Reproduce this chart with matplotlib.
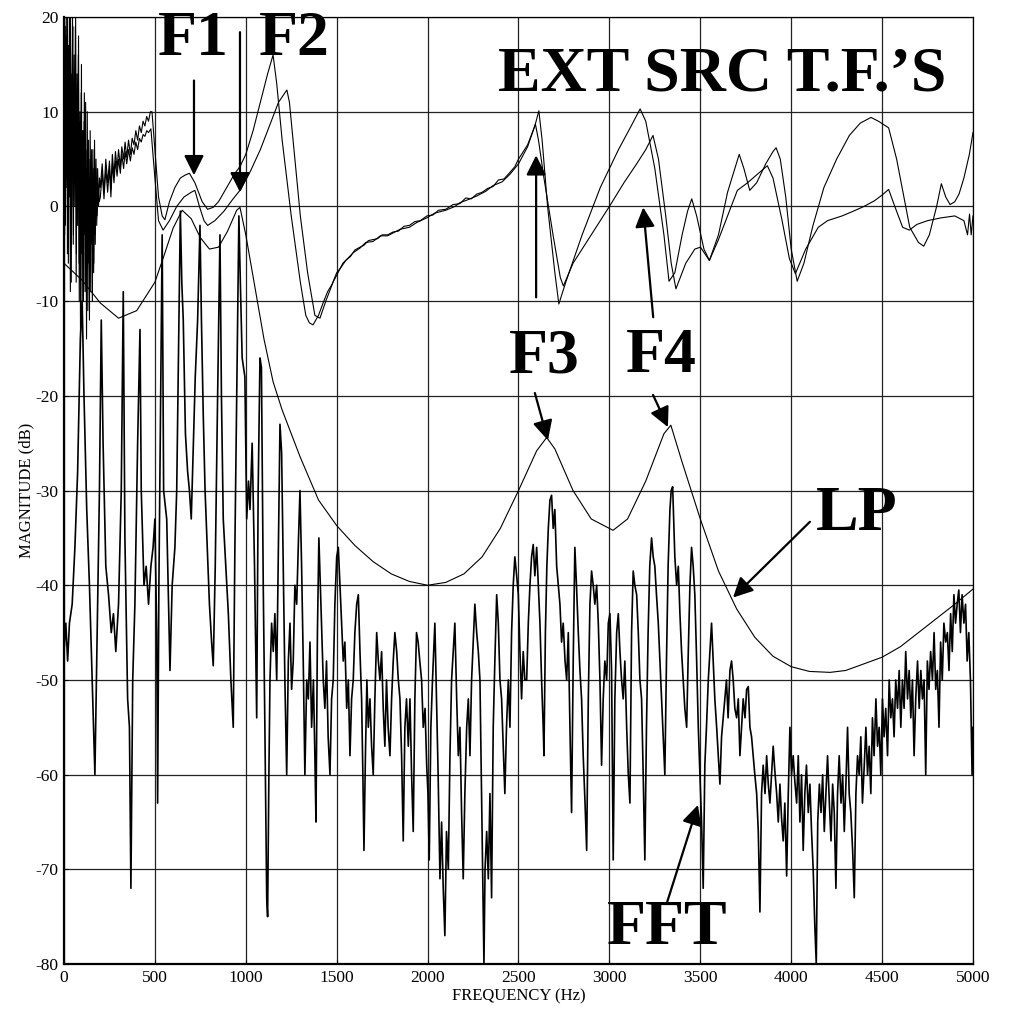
import numpy as np
import matplotlib
matplotlib.use("Agg")
import matplotlib.pyplot as plt

plt.rcParams['font.family'] = ['Liberation Serif', 'DejaVu Serif']
plt.rcParams['axes.unicode_minus'] = False

# values (Hz, dB)
lp_hz = [0, 100, 200, 300, 400, 500, 550, 600, 650, 700, 750, 800, 850, 900, 950, 968,
         1000, 1050, 1100, 1150, 1200, 1300, 1400, 1500, 1600, 1700, 1800, 1900, 2000,
         2100, 2200, 2300, 2400, 2500, 2600, 2655, 2700, 2800, 2900, 3020, 3100, 3200,
         3300, 3338, 3400, 3500, 3600, 3700, 3800, 3900, 4000, 4100, 4214, 4300, 4400,
         4500, 4600, 4700, 4800, 4900, 5000]
lp_db = [-6, -7.8, -10.2, -11.8, -11, -8, -5.2, -2.3, -0.4, -1.3, -3.3, -4.5, -4.3, -2.6, -0.4, -0.1,
         -3, -8.5, -14, -18.5, -21.5, -26.5, -31, -33.7, -35.8, -37.5, -38.8, -39.6, -40,
         -39.7, -38.8, -37, -34, -30, -25.8, -24.4, -25.6, -30, -33, -34.2, -33, -29,
         -24, -23.1, -27, -33, -38.5, -42.5, -45.5, -47.5, -48.6, -49.1, -49.2, -49, -48.3,
         -47.6, -46.5, -45, -43.5, -42, -40.4]

ext_a = [(0, 5), (4, 20), (8, -2), (12, 18), (16, 3), (20, 20), (24, -6), (28, 15), (32, 1),
         (36, 20), (40, -8), (44, 12), (48, 19), (52, -3), (56, 16), (60, 0), (64, 20), (68, -5),
         (72, 14), (76, 2), (80, 18), (84, -10), (88, 10), (92, -4), (96, 15), (100, -12),
         (104, 8), (108, -2), (112, 12), (116, -9), (120, 6), (124, -14), (128, 10), (132, -6),
         (136, 5), (140, -12), (144, 8), (148, -3), (152, 6), (156, -10), (160, 4), (164, -6),
         (168, 7), (172, -4), (176, 5), (180, -2), (185, 4), (190, 0), (195, 3),
         (200, 2), (210, 4.5), (220, 1.5), (230, 5), (240, 2.5), (250, 4.8), (258, 1.8),
         (266, 5.5), (275, 3.2), (283, 5.8), (292, 4), (300, 6), (310, 4.2), (318, 6.3),
         (328, 5), (336, 6.8), (345, 5.2), (355, 7), (365, 5.5), (375, 7.2), (385, 6.5),
         (395, 8), (405, 7), (415, 8.5), (425, 7.8), (435, 9), (445, 8.5), (455, 9.5),
         (465, 9), (475, 10), (484, 10),
         (500, 6), (520, 1), (540, -1), (555, -1.4), (580, 0.5), (610, 2), (640, 3), (665, 3.3),
         (690, 3.5), (720, 2.5), (760, 0.5), (790, -0.3), (820, -0.1), (850, 0.5), (880, 1.5),
         (910, 2.5), (940, 3.5), (968, 4.2), (1000, 5.5), (1040, 8), (1080, 11), (1120, 14),
         (1150, 16), (1170, 13), (1200, 7), (1250, -1), (1300, -8), (1330, -11.5), (1350, -12.3),
         (1370, -12.5), (1400, -11.5), (1425, -10.2), (1450, -9), (1475, -8.2), (1500, -7),
         (1525, -6.4), (1550, -5.7), (1575, -5.3), (1600, -4.6), (1628, -4.3), (1650, -4.1),
         (1675, -3.6), (1700, -3.5), (1725, -3.4), (1750, -3.0), (1780, -3.0), (1810, -2.7),
         (1840, -2.6), (1870, -2.1), (1900, -2.0), (1930, -1.6), (1960, -1.5), (1996, -1.0),
         (2030, -0.9), (2060, -0.4), (2100, -0.3), (2140, 0.2), (2178, 0.3), (2210, 0.9),
         (2240, 0.8), (2270, 1.3), (2300, 1.5), (2330, 1.9), (2360, 2.1), (2390, 2.8),
         (2420, 2.9), (2453, 3.6), (2480, 4.2), (2500, 5), (2550, 6.5), (2590, 8.5),
         (2612, 10.1), (2630, 7), (2660, 0), (2700, -7), (2722, -10.3), (2760, -8), (2850, -3),
         (2950, 2), (3050, 6), (3120, 8.5), (3169, 10.3), (3200, 9), (3250, 4), (3300, -3),
         (3328, -7.9), (3360, -7), (3400, -3), (3430, -0.5), (3453, 0.8), (3480, -1),
         (3520, -4.5), (3550, -5.7), (3600, -3), (3650, 1.5), (3690, 4), (3714, 5.5), (3740, 4),
         (3772, 1.7), (3810, 2.5), (3860, 4.5), (3900, 5.8), (3917, 6.2), (3940, 5), (3970, 1),
         (4000, -4.5), (4033, -7.9), (4070, -6), (4120, -2), (4180, 2), (4250, 5), (4320, 7.5),
         (4380, 8.8), (4439, 9.4), (4480, 9), (4536, 8.3), (4580, 5), (4620, 1), (4652, -2.2),
         (4700, -3.8), (4729, -4.2), (4760, -3), (4800, 0), (4826, 2.4), (4850, 1), (4874, 0.2),
         (4900, 0.5), (4923, 1.3), (4950, 3), (4980, 5.5), (5000, 7.8)]

ext_b = [(0, 12), (3, -3), (7, 19), (11, 2), (15, 20), (19, -5), (23, 17), (27, 6), (31, 20),
         (35, -9), (39, 14), (43, 0), (47, 20), (51, -4), (55, 13), (59, 5), (63, 19), (67, -8),
         (71, 11), (75, -2), (79, 16), (83, -6), (87, 9), (91, -15), (95, 12), (99, -5),
         (103, 7), (107, -10), (111, 9), (115, -3), (119, 11), (123, -8), (127, 4), (131, -11),
         (135, 7), (139, -5), (143, 3), (147, -9), (151, 5), (155, -4), (159, 6), (163, -7),
         (167, 3), (171, -3), (176, 4), (182, -1), (188, 2), (194, 0.5),
         (200, 1), (210, 3.5), (220, 0.8), (230, 4), (240, 1.5), (250, 4), (258, 1),
         (266, 4.5), (275, 2.5), (283, 4.8), (292, 3.2), (300, 5), (310, 3.5), (318, 5.5),
         (328, 4), (336, 5.8), (345, 4.5), (355, 6), (365, 4.8), (375, 6.2), (385, 5.5),
         (395, 6.8), (405, 6), (415, 7.2), (425, 6.8), (435, 7.6), (445, 7.4), (455, 8),
         (465, 7.8), (478, 8.2),
         (500, 3), (520, -1.5), (545, -2.5),
         (580, -1.5), (620, 0), (660, 1), (700, 1.5), (720, 1.7), (745, 0), (770, -1.5),
         (790, -2), (830, -1.5), (880, -0.5), (930, 0.8), (968, 1.7), (1020, 3.5), (1080, 6),
         (1130, 8.5), (1180, 11), (1226, 12.3), (1240, 11), (1270, 5), (1300, -1), (1340, -7),
         (1380, -11.5), (1408, -11.8), (1440, -10), (1480, -8), (1534, -6), (1560, -5.5),
         (1590, -4.9), (1628, -4.4), (1660, -3.8), (1700, -3.7), (1740, -3.1), (1780, -3.1),
         (1810, -2.8), (1850, -2.4), (1900, -2.2), (1940, -1.7), (1996, -1.2), (2040, -0.7),
         (2100, -0.4), (2150, 0.0), (2178, 0.4), (2220, 0.7), (2270, 1.1), (2320, 1.6),
         (2360, 2.2), (2410, 2.6), (2453, 3.4), (2500, 4.5), (2550, 6.3), (2593, 8.7),
         (2610, 7), (2640, 3), (2690, -3), (2730, -7.5), (2747, -8.4), (2800, -6), (2900, -3),
         (3000, 0), (3080, 2.5), (3150, 4.5), (3200, 6), (3240, 7.5), (3270, 5), (3310, -1),
         (3340, -6), (3366, -8.7), (3420, -6), (3470, -4.5), (3501, -4.3), (3550, -5.7),
         (3600, -3.5), (3650, -1), (3704, 1.7), (3760, 2.5), (3820, 3.5), (3869, 4.3),
         (3900, 3), (3950, -1.5), (3990, -5.5), (4023, -7.1), (4080, -4.5), (4149, -2.2),
         (4200, -1.5), (4280, -1), (4342, -0.5), (4400, 0), (4458, 0.6), (4500, 1.2),
         (4536, 1.8), (4570, 0), (4613, -2.2), (4650, -2.5), (4691, -1.9), (4750, -1.5),
         (4826, -1.2), (4900, -1), (4950, -1.5), (4970, -3), (4981, -0.8), (4990, -3), (5000, -1)]

fft = [(0, -47), (10, -44), (20, -48), (30, -44), (45, -42), (60, -36), (75, -28), (90, -14),
       (100, -10), (110, -20), (125, -32), (140, -40), (155, -50), (170, -60), (180, -48),
       (195, -30), (205, -12), (215, -25), (230, -38), (245, -41), (260, -45), (272, -43),
       (285, -47), (300, -42), (315, -30), (326, -9), (335, -35), (350, -52), (360, -55),
       (368, -72), (378, -50), (390, -42), (405, -25), (418, -13), (425, -30), (440, -40),
       (452, -38), (465, -42), (478, -38), (490, -36), (500, -33), (510, -45), (515, -63),
       (522, -40), (532, -20), (540, -3), (548, -30), (565, -33), (575, -42), (583, -49),
       (595, -40), (610, -36), (620, -30), (632, -12), (640, -0.5), (648, -8), (656, -12),
       (668, -24), (680, -28), (690, -30), (700, -33), (712, -25), (722, -18), (735, -12),
       (748, -2), (756, -12), (766, -22), (776, -30), (788, -36), (800, -42), (812, -46),
       (821, -48.5), (832, -38), (845, -20), (858, -3), (866, -20), (876, -33), (890, -38),
       (904, -43), (918, -50), (931, -55), (940, -36), (950, -20), (962, -1), (970, -8),
       (980, -16), (995, -18), (1005, -33), (1015, -29), (1023, -32), (1035, -25), (1048, -38),
       (1060, -54), (1068, -30), (1078, -16), (1086, -17), (1096, -40), (1105, -55),
       (1115, -73), (1120, -75), (1127, -60), (1133, -50), (1142, -44), (1151, -47),
       (1160, -43), (1170, -50), (1180, -35), (1188, -23), (1197, -26), (1206, -38),
       (1215, -50), (1225, -60), (1234, -48), (1243, -44), (1252, -51), (1261, -48),
       (1270, -40), (1280, -42), (1290, -35), (1298, -30), (1307, -38), (1316, -48),
       (1325, -60), (1335, -50), (1344, -52), (1353, -46), (1362, -55), (1372, -50),
       (1380, -58), (1386, -65), (1394, -45), (1402, -35), (1410, -40), (1417, -44),
       (1426, -50), (1435, -53), (1444, -48), (1453, -56), (1463, -60), (1472, -52),
       (1481, -50), (1490, -42), (1500, -37), (1509, -36), (1518, -40), (1527, -44),
       (1536, -48), (1545, -46), (1555, -53), (1564, -50), (1573, -58), (1582, -52),
       (1591, -50), (1600, -45), (1610, -42), (1619, -41), (1628, -47), (1637, -52),
       (1644, -60), (1650, -68), (1658, -58), (1666, -50), (1674, -55), (1683, -52),
       (1692, -57), (1701, -60), (1710, -52), (1720, -45), (1729, -48), (1738, -50),
       (1747, -47), (1756, -53), (1765, -57), (1774, -50), (1783, -55), (1793, -58),
       (1802, -52), (1811, -48), (1820, -45), (1830, -47), (1839, -50), (1848, -52),
       (1857, -58), (1866, -67), (1875, -55), (1884, -52), (1894, -57), (1903, -52),
       (1912, -60), (1921, -66), (1930, -52), (1939, -45), (1948, -46), (1957, -48),
       (1967, -50), (1976, -55), (1986, -53), (1995, -59), (2002, -62), (2009, -69),
       (2018, -55), (2027, -50), (2036, -46), (2040, -44), (2049, -52), (2058, -60),
       (2068, -71), (2077, -65), (2086, -72), (2095, -77), (2104, -66), (2114, -70),
       (2123, -58), (2132, -50), (2141, -47), (2150, -44), (2160, -52), (2169, -58),
       (2178, -55), (2187, -64), (2196, -71), (2205, -62), (2215, -55), (2224, -52),
       (2233, -58), (2242, -50), (2251, -46), (2260, -42), (2270, -45), (2279, -47),
       (2288, -50), (2297, -62), (2305, -72), (2310, -80), (2316, -70), (2325, -66),
       (2334, -71), (2343, -62), (2352, -73), (2361, -55), (2370, -48), (2380, -41),
       (2389, -44), (2398, -50), (2407, -52), (2416, -57), (2425, -62), (2434, -55),
       (2444, -50), (2453, -55), (2462, -45), (2471, -40), (2480, -37), (2490, -39),
       (2499, -41), (2508, -47), (2517, -52), (2526, -47), (2535, -50), (2545, -50),
       (2554, -44), (2563, -40), (2572, -37), (2581, -35.7), (2590, -39), (2600, -36),
       (2609, -40), (2618, -44), (2627, -50), (2636, -55), (2640, -58), (2648, -45),
       (2656, -38), (2664, -34), (2673, -31), (2682, -30.5), (2691, -34), (2700, -32),
       (2710, -38), (2719, -40), (2728, -42), (2737, -46), (2746, -44), (2756, -48),
       (2765, -50), (2774, -45), (2783, -55), (2792, -64), (2801, -48), (2810, -36),
       (2819, -40), (2829, -45), (2838, -49), (2847, -52), (2856, -58), (2866, -63),
       (2875, -68), (2884, -52), (2893, -42), (2902, -38.5), (2911, -40), (2920, -42),
       (2930, -40), (2939, -44), (2948, -50), (2957, -59), (2966, -52), (2975, -48),
       (2985, -50), (2994, -44), (3003, -43), (3012, -49), (3021, -69), (3030, -52),
       (3040, -45), (3049, -43), (3058, -47), (3067, -50), (3076, -52), (3085, -48),
       (3095, -55), (3104, -60), (3113, -63), (3122, -45), (3131, -38.5), (3140, -40),
       (3150, -41), (3159, -45), (3168, -50), (3177, -52), (3186, -60), (3195, -69),
       (3204, -55), (3213, -45), (3222, -38), (3232, -35), (3241, -37), (3250, -38),
       (3259, -41), (3269, -44), (3278, -48), (3287, -52), (3296, -56), (3305, -60),
       (3314, -48), (3323, -38), (3333, -32), (3340, -30), (3348, -29.6), (3355, -34),
       (3360, -37), (3370, -40), (3379, -38), (3388, -43), (3397, -47), (3406, -50),
       (3415, -53), (3425, -55), (3434, -47), (3443, -40), (3452, -36), (3461, -38),
       (3470, -41), (3480, -48), (3489, -55), (3498, -60), (3507, -65), (3516, -72),
       (3525, -59), (3534, -55), (3544, -50), (3553, -47), (3562, -44), (3571, -48),
       (3580, -52), (3590, -55), (3599, -58), (3608, -61), (3617, -56), (3626, -54),
       (3635, -52), (3644, -50), (3653, -54), (3663, -49), (3672, -48), (3681, -50),
       (3690, -53), (3700, -54), (3709, -52), (3718, -58), (3727, -55), (3736, -52),
       (3746, -54), (3755, -51), (3764, -50.7), (3773, -55), (3782, -56), (3791, -58),
       (3800, -60), (3810, -62), (3819, -66), (3828, -74.5), (3837, -62), (3846, -59),
       (3856, -62), (3865, -58), (3874, -61), (3883, -63), (3892, -60), (3901, -57),
       (3910, -59.6), (3920, -62), (3929, -65), (3938, -61), (3947, -64.6), (3956, -67),
       (3965, -63), (3975, -70.7), (3984, -62), (3993, -55), (4002, -60), (4011, -58),
       (4020, -60.7), (4030, -63), (4039, -58), (4048, -65), (4057, -60), (4066, -68),
       (4075, -62), (4084, -59), (4094, -64), (4103, -61), (4112, -66), (4121, -70),
       (4130, -76), (4138, -80), (4146, -65), (4155, -61), (4164, -64), (4173, -60),
       (4182, -66), (4191, -62), (4200, -58), (4210, -63), (4219, -67), (4228, -61),
       (4237, -64), (4246, -72), (4255, -62), (4264, -58), (4274, -63), (4283, -60),
       (4292, -66), (4301, -61), (4310, -55), (4319, -62), (4328, -64), (4338, -68),
       (4347, -73), (4356, -62), (4365, -58), (4374, -60), (4383, -56), (4392, -63),
       (4402, -59), (4411, -55), (4420, -60), (4429, -57), (4438, -62), (4447, -54),
       (4456, -58), (4466, -52), (4475, -57), (4484, -55), (4493, -60), (4502, -52),
       (4511, -56), (4520, -53), (4530, -58), (4539, -50), (4548, -54), (4557, -52),
       (4566, -56), (4575, -50), (4585, -53), (4594, -49), (4603, -55), (4612, -50),
       (4621, -53), (4630, -47), (4640, -52), (4649, -49), (4658, -54), (4667, -50),
       (4676, -58), (4685, -52), (4695, -48), (4704, -53), (4713, -49), (4722, -52),
       (4731, -50), (4740, -60), (4749, -48), (4758, -51), (4767, -47), (4777, -50),
       (4786, -45), (4795, -51), (4804, -49), (4813, -55), (4822, -46), (4831, -50),
       (4840, -44), (4850, -46), (4859, -45), (4868, -49), (4877, -43), (4886, -47),
       (4895, -41), (4904, -44), (4913, -42), (4922, -40.5), (4931, -45), (4940, -41),
       (4950, -44), (4959, -42), (4968, -48), (4977, -45), (4986, -50), (4995, -60),
       (5000, -55)]

x_ticks = np.arange(0, 5001, 500)
y_ticks = np.arange(-80, 21, 10)

fig = plt.figure(figsize=(10.11, 10.27), dpi=100)
ax = fig.add_axes([0.0633, 0.0613, 0.8991, 0.9221])

ax.plot(*zip(*fft), color='black', lw=1.2, zorder=3)
ax.plot(lp_hz, lp_db, color='black', lw=0.8, zorder=3)
ax.plot(*zip(*ext_a), color='black', lw=0.8, zorder=3)
ax.plot(*zip(*ext_b), color='black', lw=0.8, zorder=3)

ax.set_xlim(0, 5000)
ax.set_ylim(-80, 20)
ax.set_xticks(x_ticks)
ax.set_yticks(y_ticks)
ax.grid(True, color='#222222', lw=0.9)
ax.tick_params(direction='in', length=3, labelsize=12.5, pad=4)
ax.set_xlabel('FREQUENCY (Hz)', fontsize=12, labelpad=2)
ax.set_ylabel('MAGNITUDE (dB)', fontsize=12, labelpad=1)
for side in ['left', 'bottom']:
    ax.spines[side].set_linewidth(1.6)
for side in ['top', 'right']:
    ax.spines[side].set_linewidth(0.9)

big = dict(fontsize=46, fontweight='bold', ha='center', va='center', zorder=5)
ax.text(711, 17.6, 'F1', **big)
ax.text(1265, 17.6, 'F2', **big)
ax.text(3620, 13.8, 'EXT SRC T.F.\u2019S', **big)
ax.text(2640, -15.9, 'F3', **big)
ax.text(3283, -15.9, 'F4', **big)
ax.text(4361, -32.6, 'LP', **big)
ax.text(3317, -76.3, 'FFT', **big)

arrow = dict(arrowstyle='-|>,head_length=0.6,head_width=0.3', color='black', lw=1.6,
             mutation_scale=20, shrinkA=0, shrinkB=0)
for tail, tip in [((715, 13.3), (715, 3.3)), ((968, 18.4), (968, 1.5)),
                  ((2597, -9.6), (2597, 5.4)), ((3241, -11.7), (3186, -0.1)),
                  ((2590, -19.7), (2662, -24.7)), ((3240, -19.9), (3322, -23.3)),
                  ((4103, -33.3), (3680, -41.3)), ((3317, -73.5), (3487, -63.2))]:
    ax.annotate('', xy=tip, xytext=tail, arrowprops=arrow, zorder=5)

fig.savefig('out.png', dpi=100)
